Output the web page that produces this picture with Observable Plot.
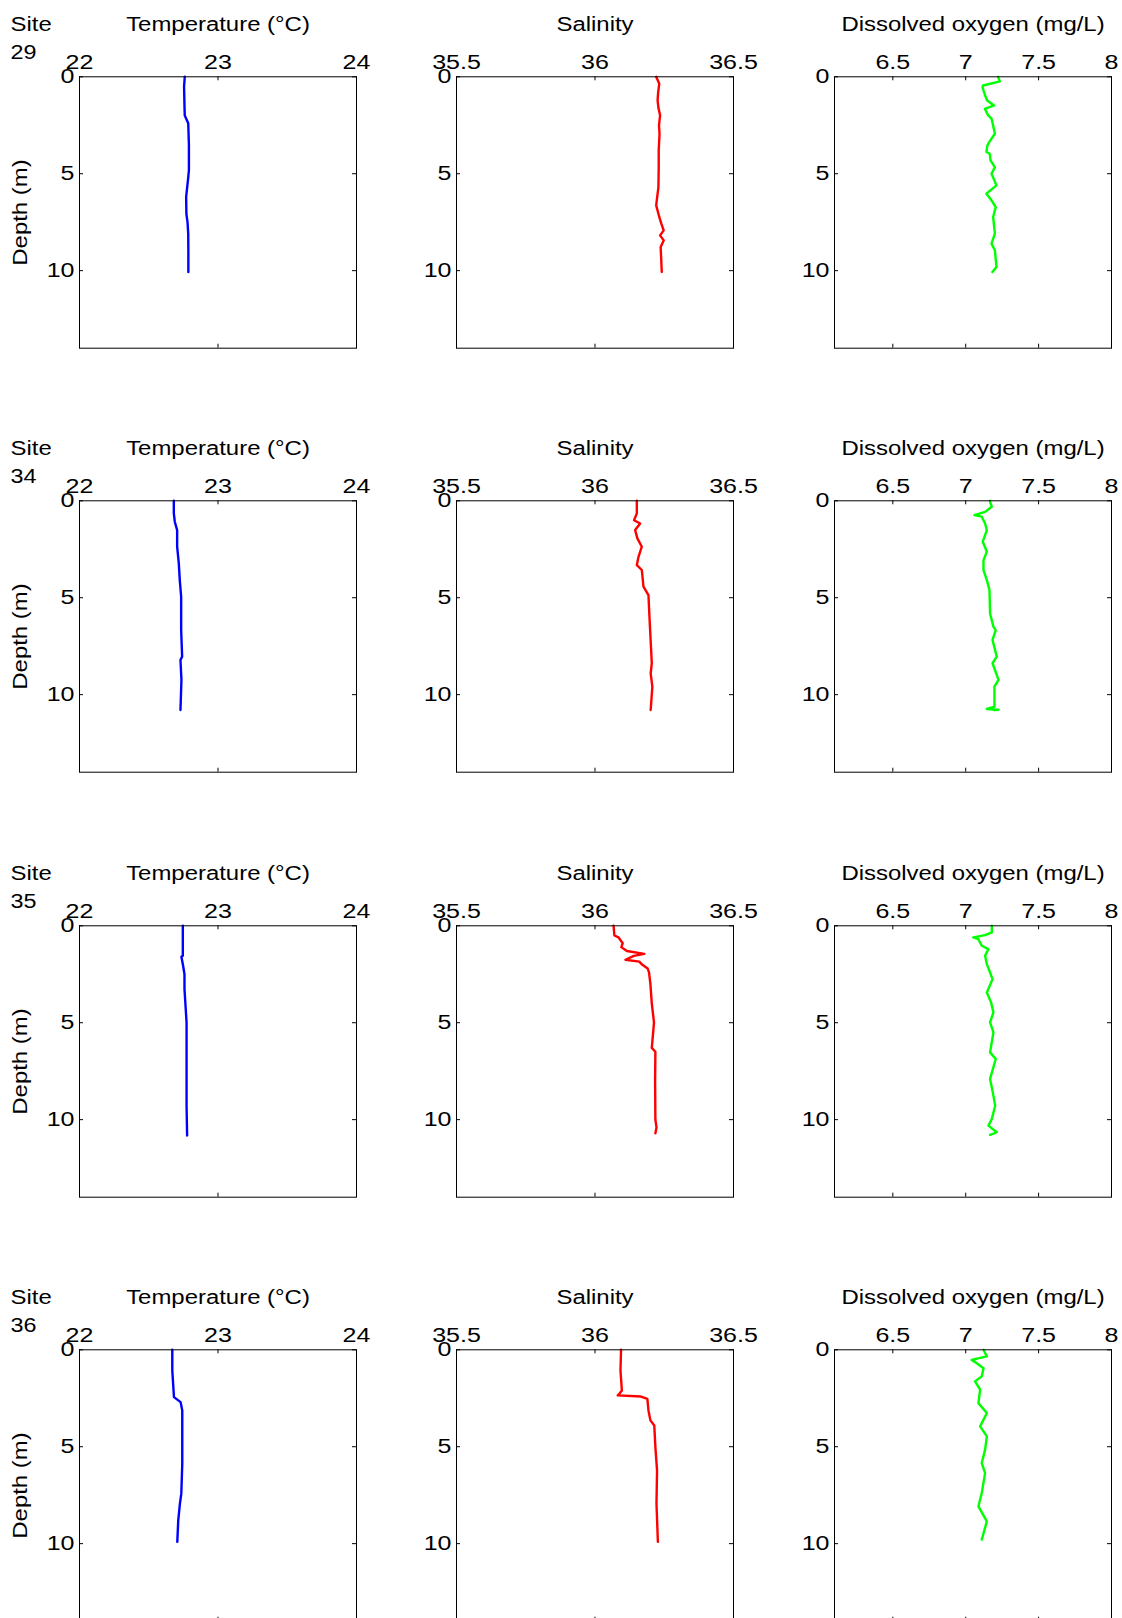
<!DOCTYPE html>
<html>
<head>
<meta charset="utf-8">
<script src="https://cdn.jsdelivr.net/npm/d3@7"></script>
<script src="https://cdn.jsdelivr.net/npm/@observablehq/plot@0.6"></script>
<style>
  html, body { margin: 0; padding: 0; background: #fff; }
  #chart { position: relative; width: 1122px; height: 1618px; overflow: hidden; background: #fff; }
  #chart svg { position: absolute; overflow: visible; }
</style>
</head>
<body>
<div id="chart"></div>
<script>
// ---- categories / ticks ----
const sites = ["29", "34", "35", "36"];
const titles = ["Temperature (°C)", "Salinity", "Dissolved oxygen (mg/L)"];
const tempTicks = [22, 23, 24];
const salTicks = [35.5, 36, 36.5];
const doTicks = [6.5, 7, 7.5, 8];
const depthTicks = [0, 5, 10];
const tempDomain = [22, 24];
const salDomain = [35.5, 36.5];
const doDomain = [6.1, 8];
const depthDomain = [0, 14];

// ---- Site 29 ----
const t29Depth = [0, 0.5, 1.5, 2.0, 2.4, 3.5, 4.8, 5.2, 6.2, 7.1, 7.5, 8.1, 9.0, 10.07];
const t29 = [22.76, 22.755, 22.758, 22.76, 22.785, 22.79, 22.79, 22.785, 22.77, 22.772, 22.78, 22.785, 22.786, 22.786];
const s29Depth = [0, 0.36, 0.8, 1.22, 1.6, 1.99, 2.5, 2.94, 3.8, 4.66, 5.69, 6.37, 6.63, 7.23, 7.6, 7.92, 8.18, 8.44, 8.78, 9.4, 10.07];
const s29 = [36.221, 36.232, 36.228, 36.226, 36.229, 36.235, 36.231, 36.233, 36.23, 36.23, 36.229, 36.223, 36.221, 36.232, 36.24, 36.248, 36.235, 36.248, 36.237, 36.239, 36.241];
const o29Depth = [0, 0.24, 0.45, 0.53, 0.9, 1.22, 1.48, 1.65, 1.99, 2.16, 2.51, 2.94, 3.37, 3.54, 3.88, 3.97, 4.31, 4.66, 5.0, 5.6, 6.03, 6.37, 6.72, 7.23, 8.09, 8.61, 8.95, 9.81, 10.07];
const o29 = [7.222, 7.234, 7.119, 7.115, 7.13, 7.147, 7.195, 7.131, 7.154, 7.177, 7.188, 7.2, 7.161, 7.149, 7.142, 7.165, 7.17, 7.2, 7.177, 7.211, 7.142, 7.177, 7.206, 7.188, 7.2, 7.177, 7.2, 7.211, 7.183];

// ---- Site 34 ----
const t34Depth = [0, 0.65, 1.08, 1.51, 2.37, 3.23, 4.09, 4.95, 6.67, 8.04, 8.21, 9.24, 10.79];
const t34 = [22.681, 22.681, 22.688, 22.705, 22.705, 22.717, 22.724, 22.734, 22.734, 22.741, 22.729, 22.736, 22.729];
const s34Depth = [0, 0.65, 1.0, 1.17, 1.51, 1.94, 2.37, 2.89, 3.32, 3.57, 4.43, 4.86, 5.81, 6.67, 8.38, 8.9, 9.59, 10.79];
const s34 = [36.151, 36.151, 36.141, 36.163, 36.145, 36.153, 36.169, 36.157, 36.151, 36.169, 36.175, 36.193, 36.196, 36.199, 36.205, 36.201, 36.207, 36.201];
const o34Depth = [0, 0.05, 0.31, 0.57, 0.74, 0.82, 1.17, 1.51, 2.11, 2.63, 3.06, 3.57, 4.09, 4.6, 5.81, 6.49, 6.67, 7.18, 8.04, 8.38, 9.24, 9.59, 10.62, 10.74, 10.78, 10.8];
const o34 = [7.167, 7.167, 7.179, 7.133, 7.06, 7.11, 7.133, 7.145, 7.117, 7.145, 7.122, 7.122, 7.145, 7.163, 7.167, 7.19, 7.206, 7.184, 7.213, 7.184, 7.225, 7.197, 7.197, 7.145, 7.225, 7.19];

// ---- Site 35 ----
const t35Depth = [0, 1.55, 1.6, 2.06, 2.5, 3.26, 4.98, 7.56, 9.28, 10.82];
const t35 = [22.746, 22.746, 22.736, 22.748, 22.758, 22.758, 22.773, 22.773, 22.773, 22.777];
const s35Depth = [0, 0.5, 0.6, 0.9, 1.1, 1.3, 1.45, 1.55, 1.75, 1.85, 2.0, 2.2, 2.4, 3.0, 4.0, 5.0, 6.3, 6.5, 8.0, 10.0, 10.4, 10.7];
const s35 = [36.067, 36.07, 36.085, 36.10, 36.095, 36.115, 36.178, 36.14, 36.11, 36.16, 36.17, 36.19, 36.195, 36.2, 36.205, 36.213, 36.205, 36.218, 36.217, 36.218, 36.222, 36.218];
const o35Depth = [0, 0.34, 0.48, 0.6, 0.69, 1.03, 1.2, 1.55, 1.98, 2.41, 2.75, 3.44, 3.95, 4.47, 4.98, 5.5, 6.53, 6.87, 7.9, 8.76, 9.28, 9.97, 10.31, 10.65, 10.79];
const o35 = [7.179, 7.179, 7.133, 7.052, 7.087, 7.11, 7.156, 7.133, 7.145, 7.167, 7.184, 7.145, 7.174, 7.19, 7.167, 7.19, 7.167, 7.206, 7.167, 7.19, 7.202, 7.179, 7.156, 7.213, 7.167];

// ---- Site 36 ----
const t36Depth = [0, 1.07, 2.44, 2.7, 3.13, 5.88, 7.42, 7.94, 8.8, 9.91];
const t36 = [22.67, 22.67, 22.682, 22.73, 22.742, 22.742, 22.735, 22.725, 22.713, 22.706];
const s36Depth = [0, 1.07, 2.1, 2.27, 2.35, 2.41, 2.53, 3.13, 3.64, 3.9, 5.02, 6.22, 7.94, 9.91];
const s36 = [36.094, 36.092, 36.097, 36.088, 36.082, 36.166, 36.189, 36.193, 36.2, 36.214, 36.218, 36.224, 36.222, 36.227];
const o36Depth = [0, 0.34, 0.52, 0.69, 0.95, 1.37, 1.63, 2.06, 2.75, 3.26, 3.95, 4.47, 5.15, 5.84, 6.36, 7.39, 8.08, 8.85, 9.79];
const o36 = [7.122, 7.145, 7.041, 7.076, 7.122, 7.11, 7.064, 7.099, 7.087, 7.145, 7.099, 7.145, 7.133, 7.11, 7.133, 7.11, 7.087, 7.145, 7.11];

const colors = ["#0000ff", "#ff0000", "#00ff00"];

const rows = [
  [[t29Depth, t29], [s29Depth, s29], [o29Depth, o29]],
  [[t34Depth, t34], [s34Depth, s34], [o34Depth, o34]],
  [[t35Depth, t35], [s35Depth, s35], [o35Depth, o35]],
  [[t36Depth, t36], [s36Depth, s36], [o36Depth, o36]]
];
const colDomains = [tempDomain, salDomain, doDomain];
const colTicks = [tempTicks, salTicks, doTicks];

// layout (pixels)
const FW = 277, FH = 271.4, ML = 79, MT = 76.3, MR = 12, MB = 76.6;
const colLeft = [0, 377.3, 754.7];
const rowTop = 424.3;
const FONT = "'Liberation Sans', Arial, Helvetica, sans-serif";

// widen glyphs horizontally (the reference font is rendered wide)
function widen(svg) {
  svg.querySelectorAll("text").forEach(t => {
    const g = t.closest("g[aria-label]");
    const lab = g ? g.getAttribute("aria-label") : "";
    const s = lab.includes("tick label") ? 1.25 : 1.14;
    const tr = t.getAttribute("transform") || "";
    const xa = t.getAttribute("x");
    let extra = "";
    if (xa != null && xa !== "" && !isNaN(+xa)) { extra = `translate(${+xa},0)`; t.removeAttribute("x"); }
    t.setAttribute("transform", `${tr} ${extra} scale(${s},1)`.trim());
  });
}

function panel(r, c) {
  const [dep, val] = rows[r][c];
  const data = dep.map((d, i) => ({depth: d, v: val[i]}));
  const ticks = colTicks[c];
  const marks = [
    Plot.ruleX(ticks, {x: d => d, insetBottom: FH - 4, stroke: "#000"}),
    Plot.ruleX(ticks, {x: d => d, insetTop: FH - 4, stroke: "#000"}),
    Plot.ruleY(depthTicks, {y: d => d, insetRight: FW - 4, stroke: "#000"}),
    Plot.ruleY(depthTicks, {y: d => d, insetLeft: FW - 4, stroke: "#000"}),
    Plot.line(data, {x: "v", y: "depth", stroke: colors[c], strokeWidth: 2.4}),
    Plot.frame({stroke: "#000", strokeWidth: 1}),
    Plot.axisX({anchor: "top", ticks, tickSize: 0, tickPadding: 8, fontSize: 20, label: null, tickFormat: d => String(d), fill: "#000"}),
    Plot.axisY({anchor: "left", ticks: depthTicks, tickSize: 0, tickPadding: 5, fontSize: 20, label: null, tickFormat: d => String(d), fill: "#000"}),
    Plot.text([titles[c]], {text: d => d, frameAnchor: "top", textAnchor: "middle", lineAnchor: "top", dy: -61.2, fontSize: 21, fill: "#000"})
  ];
  if (c === 0) {
    marks.push(Plot.text(["Site"], {text: d => d, frameAnchor: "top-left", textAnchor: "start", lineAnchor: "top", dx: -69, dy: -61.2, fontSize: 21, fill: "#000"}));
    marks.push(Plot.text([sites[r]], {text: d => d, frameAnchor: "top-left", textAnchor: "start", lineAnchor: "top", dx: -69, dy: -31.9, fontSize: 20.5, fill: "#000"}));
    marks.push(Plot.text(["Depth (m)"], {text: d => d, frameAnchor: "left", textAnchor: "middle", rotate: -90, lineAnchor: "middle", dx: -59.7, fontSize: 21, fill: "#000"}));
  }
  const svg = Plot.plot({
    width: ML + FW + MR,
    height: MT + FH + MB,
    marginLeft: ML, marginRight: MR, marginTop: MT, marginBottom: MB,
    x: {domain: colDomains[c]},
    y: {domain: depthDomain, reverse: true},
    style: {fontFamily: FONT, color: "#000", background: "transparent", overflow: "visible"},
    marks
  });
  widen(svg);
  svg.style.left = colLeft[c] + "px";
  svg.style.top = (r * rowTop) + "px";
  return svg;
}

const chart = document.getElementById("chart");
for (let r = 0; r < rows.length; r++) {
  for (let c = 0; c < 3; c++) {
    chart.appendChild(panel(r, c));
  }
}
</script>
</body>
</html>
